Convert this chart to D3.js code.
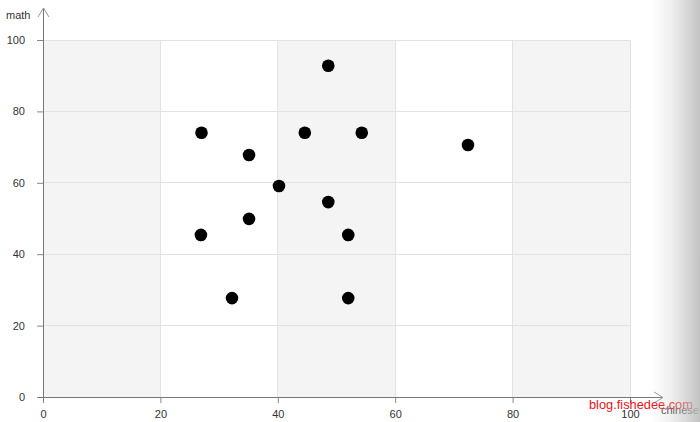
<!DOCTYPE html>
<html><head><meta charset="utf-8">
<script src="https://cdn.jsdelivr.net/npm/d3@7/dist/d3.min.js"></script>
<style>body{margin:0;background:#fff}svg{display:block;font-family:"Helvetica Neue",Arial,"Liberation Sans",sans-serif}</style>
</head><body><svg id="c" width="700" height="422"></svg>
<script>
const chineseScores = [27, 48.6, 44.6, 54.3, 35.1, 72.4, 40.2, 48.6, 35.1, 26.9, 52, 32.2, 52];
const mathScores    = [74, 92.8, 74, 74, 67.8, 70.6, 59.1, 54.6, 49.9, 45.4, 45.4, 27.7, 27.7];
const xTicks = [0, 20, 40, 60, 80, 100];
const yTicks = [0, 20, 40, 60, 80, 100];
const xName = "chinese", yName = "math";
const watermark = "blog.fishedee.com";

const svg = d3.select("#c");
const x = d3.scaleLinear().domain([0, 100]).range([43, 630]);
const y = d3.scaleLinear().domain([0, 100]).range([397, 40]);

// split areas
const bands = d3.pairs(xTicks);
svg.append("g").selectAll("rect").data(bands).join("rect")
  .attr("x", d => x(d[0])).attr("width", d => x(d[1]) - x(d[0]))
  .attr("y", y(100)).attr("height", y(0) - y(100))
  .attr("fill", (d, i) => i % 2 === 0 ? "#f4f4f4" : "#ffffff");

// grid lines
svg.append("g").selectAll("line").data(yTicks.filter(v => v > 0)).join("line")
  .attr("x1", x(0)).attr("x2", x(100)).attr("y1", d => y(d)).attr("y2", d => y(d))
  .attr("stroke", "#e2e2e2").attr("stroke-width", 1).attr("shape-rendering", "crispEdges");
svg.append("g").selectAll("line").data(xTicks.filter(v => v > 0)).join("line")
  .attr("y1", y(0)).attr("y2", y(100)).attr("x1", d => x(d)).attr("x2", d => x(d))
  .attr("stroke", "#e2e2e2").attr("stroke-width", 1).attr("shape-rendering", "crispEdges");

// axes
const xAxis = d3.axisBottom(x).tickValues(xTicks).tickSize(6).tickPadding(7).tickFormat(d3.format("d"));
const gx = svg.append("g").attr("transform", `translate(0,${y(0)})`).call(xAxis);
gx.select(".domain").remove();
gx.selectAll("line").attr("stroke", "#888");
gx.selectAll("text").attr("fill", "#333").attr("font-size", 11);

const yAxis = d3.axisLeft(y).tickValues(yTicks).tickSize(6).tickPadding(12).tickFormat(d3.format("d"));
const gy = svg.append("g").attr("transform", `translate(${x(0)},0)`).call(yAxis);
gy.select(".domain").remove();
gy.selectAll("line").attr("stroke", "#888");
gy.selectAll("text").attr("fill", "#333").attr("font-size", 11);

// axis lines with arrows
svg.append("line").attr("x1", x(0) - 4).attr("x2", 662).attr("y1", y(0) + 0.5).attr("y2", y(0) + 0.5)
  .attr("stroke", "#777").attr("stroke-width", 1);
svg.append("path").attr("d", `M654,${y(0) - 5} L663,${y(0) + 0.5} L654,${y(0) + 6}`)
  .attr("fill", "none").attr("stroke", "#999").attr("stroke-width", 1);
svg.append("line").attr("x1", x(0) + 0.5).attr("x2", x(0) + 0.5).attr("y1", y(0) + 4).attr("y2", 8)
  .attr("stroke", "#777").attr("stroke-width", 1);
svg.append("path").attr("d", `M${x(0) - 5},17 L${x(0) + 0.5},8 L${x(0) + 6},17`)
  .attr("fill", "none").attr("stroke", "#999").attr("stroke-width", 1);

// axis names
svg.append("text").attr("x", 6).attr("y", 19).attr("font-size", 11).attr("fill", "#333").text(yName);
svg.append("text").attr("x", 661).attr("y", 414).attr("font-size", 11).attr("fill", "#444").text(xName);

// points
const pts = chineseScores.map((c, i) => [c, mathScores[i]]);
svg.append("g").selectAll("circle").data(pts).join("circle")
  .attr("cx", d => x(d[0])).attr("cy", d => y(d[1])).attr("r", 6.3).attr("fill", "#000");

// watermark
svg.append("text").attr("x", 589).attr("y", 409).attr("font-size", 12.8).attr("fill", "#e8141b").text(watermark);

// right edge shadow
const defs = svg.append("defs");
const lg = defs.append("linearGradient").attr("id", "sh").attr("x1", "0").attr("x2", "1").attr("y1", "0").attr("y2", "0");
lg.append("stop").attr("offset", "0").attr("stop-color", "#c0c0c0").attr("stop-opacity", 0);
lg.append("stop").attr("offset", "0.4").attr("stop-color", "#c0c0c0").attr("stop-opacity", 0.25);
lg.append("stop").attr("offset", "1").attr("stop-color", "#bcbcbc").attr("stop-opacity", 0.9);
svg.append("rect").attr("x", 652).attr("y", 0).attr("width", 48).attr("height", 422).attr("fill", "url(#sh)");
</script></body></html>
